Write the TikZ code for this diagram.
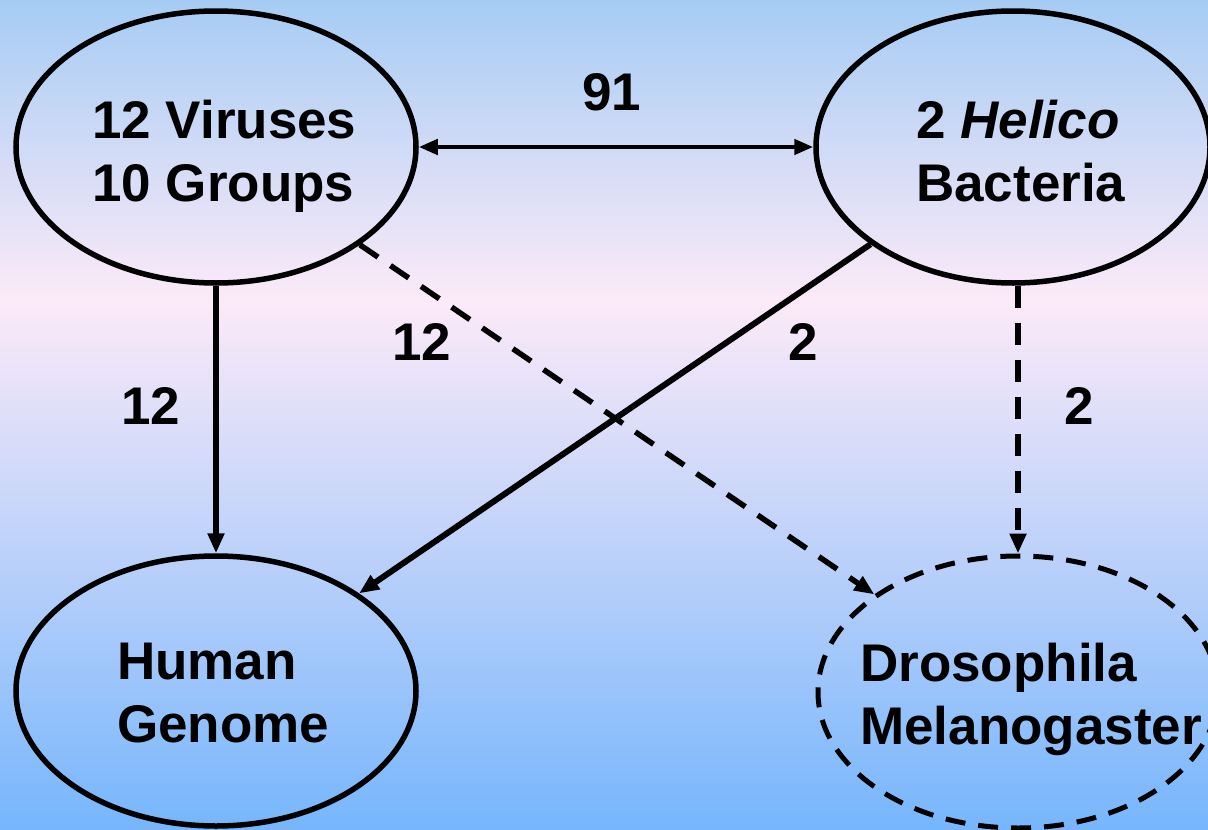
\documentclass[tikz,border=0pt]{standalone}
\usepackage{fontspec}
\setmainfont{Liberation Sans}
\usetikzlibrary{shapes.geometric,arrows.meta}
\definecolor{bgtop}{RGB}{166,204,244}
\definecolor{bgmid}{RGB}{252,234,248}
\definecolor{bgbot}{RGB}{118,182,252}
\begin{document}
\begin{tikzpicture}[x=1pt,y=-1pt,
  blob/.style={ellipse, draw, line width=5.5pt, inner sep=0pt, minimum width=400pt, minimum height=272pt},
  dblob/.style={blob, line width=5pt, dash pattern=on 20pt off 13pt},
  txt/.style={font=\fontsize{53}{63}\selectfont\bfseries, align=left, inner sep=0pt, anchor=north west},
  lab/.style={font=\fontsize{53}{63}\selectfont\bfseries, inner sep=0pt},
  link/.style={line width=6pt, -{Triangle[length=20pt,width=16pt]}},
  dlink/.style={link, line width=5.5pt, dash pattern=on 22pt off 15pt}]
\useasboundingbox (0,0) rectangle (1208,830);
\shade[top color=bgtop, bottom color=bgmid] (0,0) rectangle (1208,301);
\shade[top color=bgmid, bottom color=bgbot] (0,300) rectangle (1208,830);

\node[blob] (v) at (216,147) {};
\node[blob, minimum width=394pt] (h) at (1013,147) {};
\node[blob, minimum height=270pt] (hu) at (216,691) {};
\node[dblob] (d) at (1018,692) {};

\node[txt] (vt) at (92,100) {12 Viruses\\10 Groups};
\node[txt] (ht) at (916,100) {2 \textit{Helico}\\Bacteria};
\node[txt] (hut) at (117,643) {Human\\Genome};
\node[txt] (dt) at (860,643) {Drosophila\\Melanogaster};

\draw[line width=4.5pt, {Triangle[length=19pt,width=15pt]}-{Triangle[length=19pt,width=15pt]}] (v) -- (h);
\draw[link] (v) -- (hu);
\draw[link] (h) -- (hu);
\draw[dlink] (v) -- (d);
\draw[dlink] (h.south -| d.north) -- (d.north);

\node[lab] (l91) at (612,92) {91};
\node[lab] (l12a) at (151,406) {12};
\node[lab] (l12b) at (422,342) {12};
\node[lab] (l2a) at (803,342) {2};
\node[lab] (l2b) at (1079,406) {2};
\end{tikzpicture}
\end{document}
